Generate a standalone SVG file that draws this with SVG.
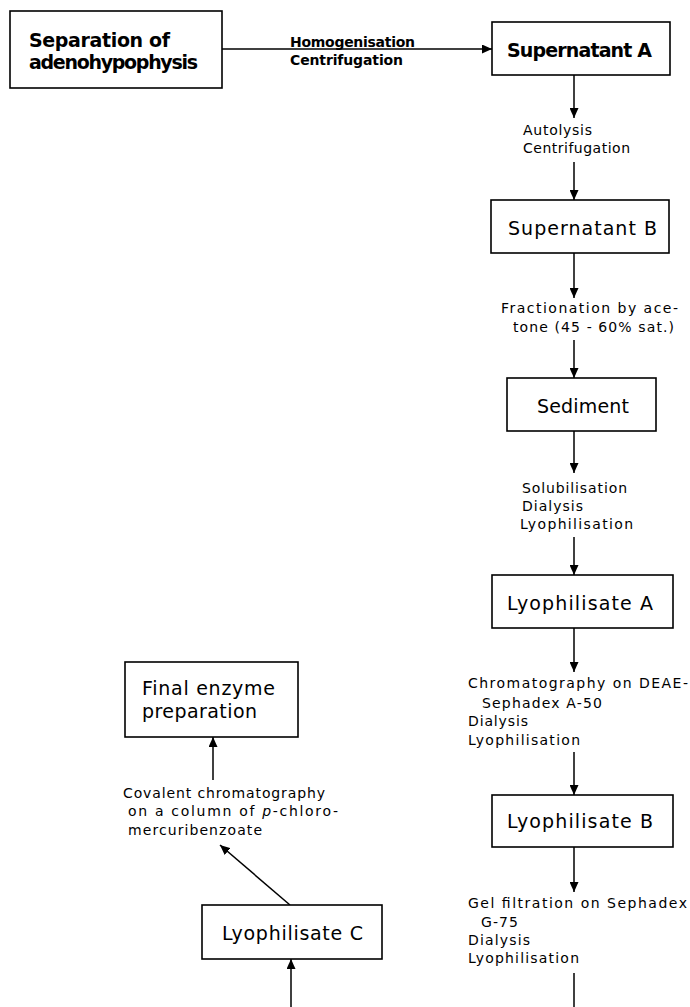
<svg xmlns="http://www.w3.org/2000/svg" width="690" height="1007" viewBox="0 0 690 1007">
<style>
.box{fill:#fff;stroke:#000;stroke-width:1.6}
.big{font-family:"DejaVu Sans","Liberation Sans",sans-serif;font-size:19px;fill:#000}
.bold{font-weight:bold}
.lbl{font-family:"DejaVu Sans","Liberation Sans",sans-serif;font-size:14px;fill:#000}
.con{stroke:#000;stroke-width:1.5;fill:none}
</style>
<defs>
<marker id="ah" markerUnits="userSpaceOnUse" markerWidth="11" markerHeight="9" refX="10" refY="4.5" orient="auto">
<path d="M0,0 L10,4.5 L0,9 z" fill="#000"/>
</marker>
</defs>
<rect width="690" height="1007" fill="#fff"/>

<g id="connectors">
<line class="con" x1="222" y1="49" x2="492" y2="49" marker-end="url(#ah)"/>
<line class="con" x1="574" y1="75" x2="574" y2="118" marker-end="url(#ah)"/>
<line class="con" x1="574" y1="162" x2="574" y2="200" marker-end="url(#ah)"/>
<line class="con" x1="574" y1="253" x2="574" y2="298" marker-end="url(#ah)"/>
<line class="con" x1="574" y1="340" x2="574" y2="378" marker-end="url(#ah)"/>
<line class="con" x1="574" y1="431" x2="574" y2="473" marker-end="url(#ah)"/>
<line class="con" x1="574" y1="537" x2="574" y2="575" marker-end="url(#ah)"/>
<line class="con" x1="574" y1="628" x2="574" y2="672" marker-end="url(#ah)"/>
<line class="con" x1="574" y1="752" x2="574" y2="795" marker-end="url(#ah)"/>
<line class="con" x1="574" y1="847" x2="574" y2="892" marker-end="url(#ah)"/>
<line class="con" x1="574" y1="973" x2="574" y2="1007"/>
<line class="con" x1="291" y1="1007" x2="291" y2="959" marker-end="url(#ah)"/>
<line class="con" x1="290" y1="905" x2="220" y2="845" marker-end="url(#ah)"/>
<line class="con" x1="213" y1="780" x2="213" y2="737" marker-end="url(#ah)"/>
</g>

<g id="labels">
<text class="lbl bold" x="290" y="47" textLength="125" lengthAdjust="spacing" font-size="13">Homogenisation</text>
<text class="lbl bold" x="290" y="65" textLength="113" lengthAdjust="spacing" font-size="13">Centrifugation</text>
<text class="lbl" x="523" y="135" textLength="69" lengthAdjust="spacing">Autolysis</text>
<text class="lbl" x="523" y="153" textLength="107" lengthAdjust="spacing">Centrifugation</text>
<text class="lbl" x="501" y="313" textLength="177" lengthAdjust="spacing">Fractionation by ace-</text>
<text class="lbl" x="513" y="332" textLength="161" lengthAdjust="spacing">tone (45 - 60% sat.)</text>
<text class="lbl" x="522" y="493" textLength="105" lengthAdjust="spacing">Solubilisation</text>
<text class="lbl" x="522" y="511" textLength="61" lengthAdjust="spacing">Dialysis</text>
<text class="lbl" x="520" y="529" textLength="113" lengthAdjust="spacing">Lyophilisation</text>
<text class="lbl" x="468" y="688" textLength="220" lengthAdjust="spacing">Chromatography on DEAE-</text>
<text class="lbl" x="482" y="708" textLength="120" lengthAdjust="spacing">Sephadex A-50</text>
<text class="lbl" x="468" y="726" textLength="60" lengthAdjust="spacing">Dialysis</text>
<text class="lbl" x="468" y="745" textLength="112" lengthAdjust="spacing">Lyophilisation</text>
<text class="lbl" x="468" y="908" textLength="219" lengthAdjust="spacing">Gel filtration on Sephadex</text>
<text class="lbl" x="481" y="927" textLength="37" lengthAdjust="spacing">G-75</text>
<text class="lbl" x="468" y="945" textLength="62" lengthAdjust="spacing">Dialysis</text>
<text class="lbl" x="468" y="963" textLength="111" lengthAdjust="spacing">Lyophilisation</text>
<text class="lbl" x="123" y="798" textLength="202" lengthAdjust="spacing" font-size="13">Covalent chromatography</text>
<text class="lbl" x="128" y="816" textLength="210" lengthAdjust="spacing" font-size="13">on a column of <tspan font-style="italic">p</tspan>-chloro-</text>
<text class="lbl" x="128" y="835" textLength="134" lengthAdjust="spacing" font-size="13">mercuribenzoate</text>
</g>

<g id="separation">
<rect class="box" x="10" y="11" width="212" height="77"/>
<text class="big bold" x="29" y="47" textLength="141" lengthAdjust="spacing" font-size="18">Separation of</text>
<text class="big bold" x="29" y="69" textLength="169" lengthAdjust="spacing" font-size="18">adenohypophysis</text>
</g>
<g id="supernatantA">
<rect class="box" x="492" y="22" width="178" height="53"/>
<text class="big bold" x="507" y="57" textLength="145" lengthAdjust="spacing" font-size="18">Supernatant A</text>
</g>
<g id="supernatantB">
<rect class="box" x="491" y="200" width="178" height="53"/>
<text class="big" x="508" y="235" textLength="149" lengthAdjust="spacing">Supernatant B</text>
</g>
<g id="sediment">
<rect class="box" x="507" y="378" width="149" height="53"/>
<text class="big" x="537" y="413" textLength="92" lengthAdjust="spacing">Sediment</text>
</g>
<g id="lyophilisateA">
<rect class="box" x="492" y="575" width="181" height="53"/>
<text class="big" x="507" y="610" textLength="146" lengthAdjust="spacing">Lyophilisate A</text>
</g>
<g id="lyophilisateB">
<rect class="box" x="492" y="795" width="181" height="52"/>
<text class="big" x="507" y="828" textLength="146" lengthAdjust="spacing">Lyophilisate B</text>
</g>
<g id="lyophilisateC">
<rect class="box" x="202" y="905" width="180" height="54"/>
<text class="big" x="222" y="940" textLength="141" lengthAdjust="spacing">Lyophilisate C</text>
</g>
<g id="final">
<rect class="box" x="125" y="662" width="173" height="75"/>
<text class="big" x="142" y="695" textLength="133" lengthAdjust="spacing">Final enzyme</text>
<text class="big" x="142" y="718" textLength="115" lengthAdjust="spacing">preparation</text>
</g>
</svg>
